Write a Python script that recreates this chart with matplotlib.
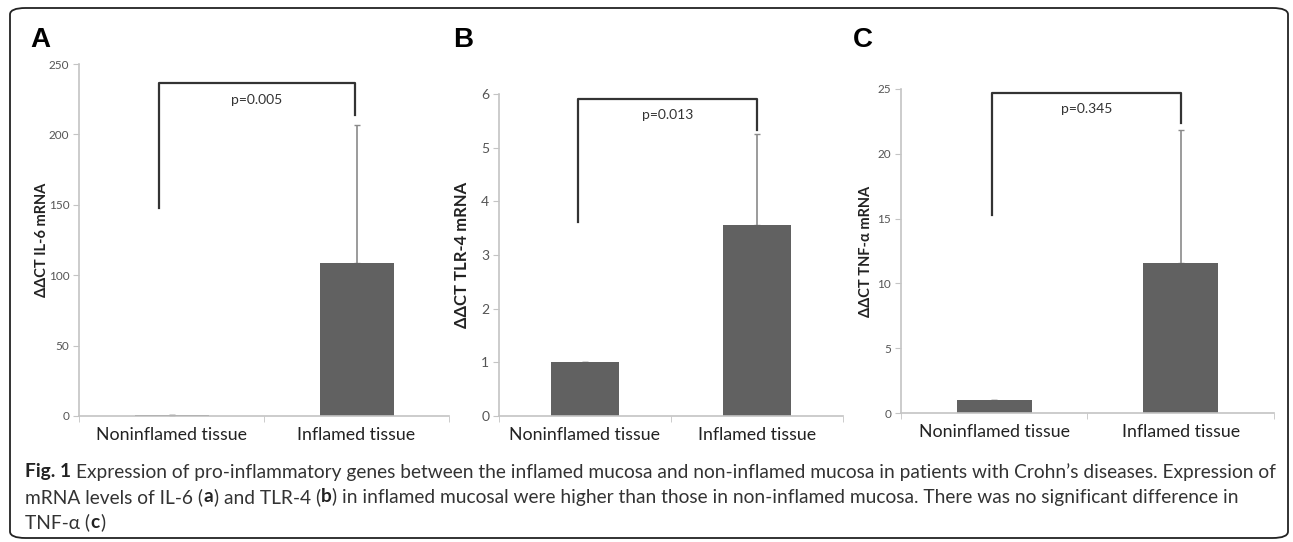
import matplotlib
matplotlib.use("Agg")
import matplotlib.pyplot as plt
from matplotlib.patches import FancyBboxPatch

plt.rcParams['font.family'] = ['Lato', 'DejaVu Sans']

categories = ['Noninflamed tissue', 'Inflamed tissue']

il6_means = [1.0, 108.7]
il6_err = [0.0, 98.0]
il6_bracket = [147.7, 236.5, 213.8]   # left leg bottom, top, right leg bottom
il6_p = 'p=0.005'

tlr4_means = [1.0, 3.56]
tlr4_err = [0.0, 1.69]
tlr4_bracket = [3.62, 5.9, 5.33]
tlr4_p = 'p=0.013'

tnf_means = [1.0, 11.56]
tnf_err = [0.0, 10.24]
tnf_bracket = [15.3, 24.7, 22.4]
tnf_p = 'p=0.345'

caption1 = ('Expression of pro-inflammatory genes between the inflamed mucosa and '
            'non-inflamed mucosa in patients with Crohn’s diseases. Expression of')
caption2 = [('mRNA levels of IL-6 (', False), ('a', True), (') and TLR-4 (', False),
            ('b', True), (') in inflamed mucosal were higher than those in non-inflamed '
                          'mucosa. There was no significant difference in', False)]
caption3 = [('TNF-α (', False), ('c', True), (')', False)]

bar_color = '#616161'
axis_gray = '#c4c4c4'
tick_gray = '#555555'

fig = plt.figure(figsize=(12.93, 5.42), dpi=100)

# rounded frame round the whole figure
frame = FancyBboxPatch((10 / 1293, 4 / 542), 1278 / 1293, 530 / 542,
                       boxstyle='round,pad=0,rounding_size=0.012',
                       transform=fig.transFigure, fill=False,
                       edgecolor='#222222', linewidth=1.3)
fig.patches.append(frame)


def panel(rect, means, err, ymax, ystep, xmax, bracket, ptext, ylabel,
          tick_fs, label_fs, p_fs, bx):
    ax = fig.add_axes(rect)
    x = [0, 1]
    ax.bar(x, means, width=0.4, color=bar_color, zorder=2)
    ax.errorbar(x, means, yerr=[[0, 0], err], fmt='none', ecolor='#8a8a8a',
                elinewidth=1.2, capsize=2, capthick=1, zorder=1)
    ax.set_xlim(-0.5, xmax)
    ax.set_ylim(0, ymax)
    ax.set_yticks([i * ystep for i in range(int(round(ymax / ystep)) + 1)])
    ax.set_xticks(x)
    ax.set_xticklabels(categories, fontsize=12.8, color='#222222')
    ax.set_xticks([-0.5, 0.5, 1.5], minor=True)
    ax.tick_params(axis='x', which='major', length=0, pad=8)
    ax.tick_params(axis='x', which='minor', length=4, color=axis_gray)
    ax.tick_params(axis='y', length=4, color=axis_gray, labelsize=tick_fs,
                   labelcolor=tick_gray, pad=3)
    for s in ['top', 'right']:
        ax.spines[s].set_visible(False)
    for s in ['left', 'bottom']:
        ax.spines[s].set_color(axis_gray)
        ax.spines[s].set_linewidth(1.2)
    ax.set_ylabel(ylabel, fontsize=label_fs, fontweight='bold', color='#222222')
    # significance bracket
    ax.plot([bx[0], bx[0], bx[1], bx[1]],
            [bracket[0], bracket[1], bracket[1], bracket[2]],
            color='#333333', linewidth=1.6, clip_on=False, zorder=3)
    ax.text((bx[0] + bx[1]) / 2, bracket[1] - ymax * 0.03, ptext,
            ha='center', va='top', fontsize=p_fs, color='#333333')
    return ax


axA = panel([0.0611, 0.2325, 0.2862, 0.6494], il6_means, il6_err, 250, 50, 1.5,
            il6_bracket, il6_p, 'ΔΔCT IL-6 mRNA', 8.5, 10.5, 10, [-0.07, 0.99])
axA.yaxis.set_label_coords(-0.08, 0.5)

axB = panel([0.3859, 0.2325, 0.266, 0.594], tlr4_means, tlr4_err, 6, 1, 1.3,
            tlr4_bracket, tlr4_p, 'ΔΔCT TLR-4 mRNA', 10, 12, 10, [-0.04, 1.0])
axB.yaxis.set_label_coords(-0.085, 0.5)

axC = panel([0.6968, 0.238, 0.2885, 0.598], tnf_means, tnf_err, 25, 5, 1.44,
            tnf_bracket, tnf_p, 'ΔΔCT TNF-α mRNA', 8.5, 10.5, 10, [-0.01, 1.0])
axC.yaxis.set_label_coords(-0.075, 0.5)

for lab, xp in [('A', 30), ('B', 453), ('C', 853)]:
    fig.text(xp / 1293, 1 - 40 / 542, lab, fontsize=20, fontweight='bold',
             ha='left', va='center', family=['Liberation Sans', 'DejaVu Sans'])

# caption: size the font so the first line fills the frame width
cap_color = '#333333'
cap_family = ['Liberation Sans Narrow', 'Lato', 'DejaVu Sans']
probe = fig.text(0, 0, 'Fig. 1 ' + caption1, fontsize=10, family=cap_family)
fig.canvas.draw()
w10 = probe.get_window_extent().width
probe.remove()
cap_fs = 10 * 1250 / w10


def mixed_line(y, parts):
    xpos = 25
    for txt, bold in parts:
        tt = fig.text(xpos / 1293, y, txt, fontsize=cap_fs, family=cap_family,
                      color='#222222' if bold else cap_color,
                      fontweight='bold' if bold else 'normal', va='center', ha='left')
        fig.canvas.draw()
        xpos = tt.get_window_extent().x1 + 0.5


mixed_line(1 - 472 / 542, [('Fig. 1 ', True), (caption1, False)])
mixed_line(1 - 497 / 542, caption2)
mixed_line(1 - 522 / 542, caption3)

fig.savefig('out.png', dpi=100)
